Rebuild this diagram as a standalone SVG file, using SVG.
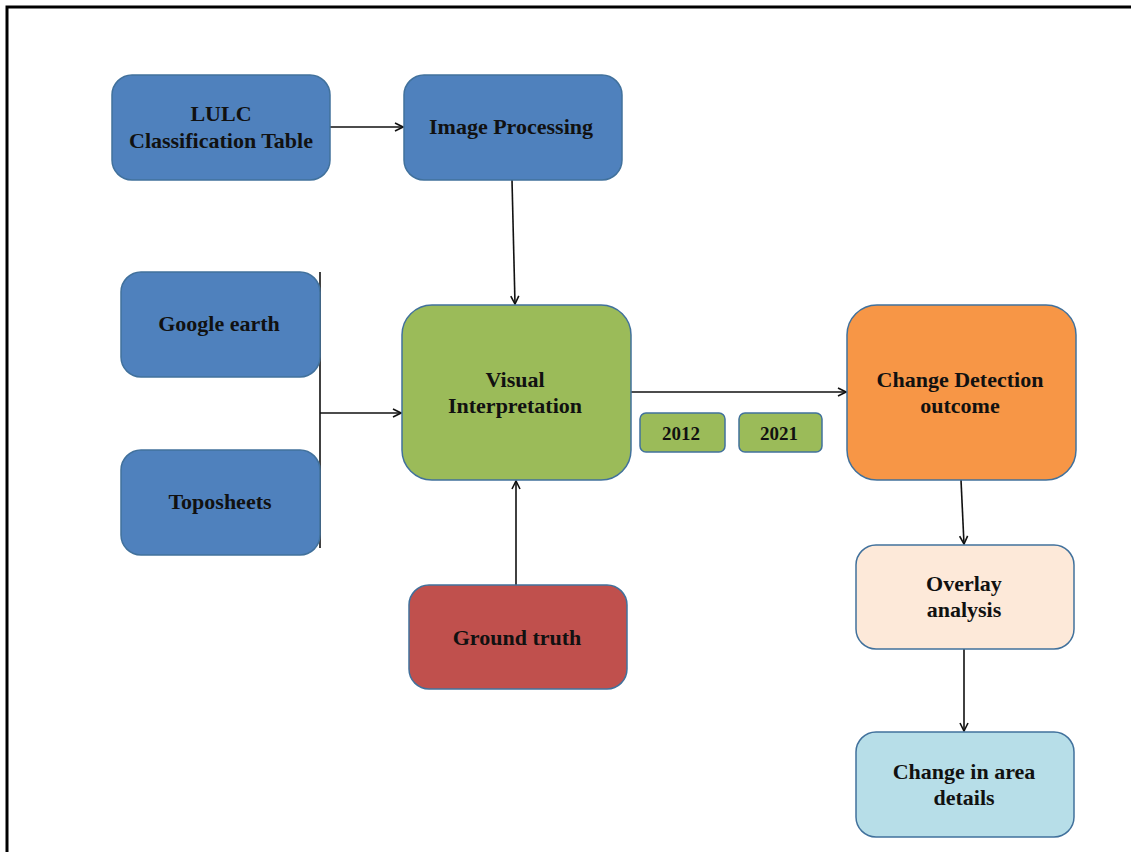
<svg xmlns="http://www.w3.org/2000/svg" width="1131" height="852" viewBox="0 0 1131 852">
<style>
.n{stroke:#41719C;stroke-width:1.5}
.t{font-family:"Liberation Serif","Times New Roman",serif;font-weight:bold;font-size:22px;fill:#111;text-anchor:middle}
.s{font-size:19px}
.c{fill:none;stroke:#111;stroke-width:1.6}
</style>
<defs>
<marker id="a" viewBox="0 0 10 10" refX="9" refY="5" markerWidth="10" markerHeight="10" markerUnits="userSpaceOnUse" orient="auto">
<path d="M1,1 L9,5 L1,9" fill="none" stroke="#111" stroke-width="1.6"/>
</marker>
</defs>
<rect width="1131" height="852" fill="#fff"/>
<path d="M7,852 V7 H1131" fill="none" stroke="#000" stroke-width="3"/>
<g id="connectors">
<path class="c" d="M330,127 H403" marker-end="url(#a)"/>
<path class="c" d="M512,180 L515,304" marker-end="url(#a)"/>
<path class="c" d="M320,272 V548"/>
<path class="c" d="M320,413 H401" marker-end="url(#a)"/>
<path class="c" d="M516,585 V481" marker-end="url(#a)"/>
<path class="c" d="M631,392 H846" marker-end="url(#a)"/>
<path class="c" d="M961,480 L964,544" marker-end="url(#a)"/>
<path class="c" d="M964,649 V731" marker-end="url(#a)"/>
</g>
<g id="lulc"><rect class="n" x="112" y="75" width="218" height="105" rx="20" fill="#4F81BD"/><text class="t" x="221" y="121">LULC</text><text class="t" x="221" y="148">Classification Table</text></g>
<g id="image-processing"><rect class="n" x="404" y="75" width="218" height="105" rx="20" fill="#4F81BD"/><text class="t" x="511" y="134">Image Processing</text></g>
<g id="google-earth"><rect class="n" x="121" y="272" width="199" height="105" rx="20" fill="#4F81BD"/><text class="t" x="219" y="331">Google earth</text></g>
<g id="toposheets"><rect class="n" x="121" y="450" width="199" height="105" rx="20" fill="#4F81BD"/><text class="t" x="220" y="509">Toposheets</text></g>
<g id="visual"><rect class="n" x="402" y="305" width="229" height="175" rx="30" fill="#9BBB59"/><text class="t" x="515" y="387">Visual</text><text class="t" x="515" y="413">Interpretation</text></g>
<g id="ground-truth"><rect class="n" x="409" y="585" width="218" height="104" rx="20" fill="#C0504D"/><text class="t" x="517" y="645">Ground truth</text></g>
<g id="change-detection"><rect class="n" x="847" y="305" width="229" height="175" rx="30" fill="#F79646"/><text class="t" x="960" y="387">Change Detection</text><text class="t" x="960" y="413">outcome</text></g>
<g id="y2012"><rect class="n" x="640" y="413" width="85" height="39" rx="6" fill="#9BBB59"/><text class="t s" x="681" y="440">2012</text></g>
<g id="y2021"><rect class="n" x="739" y="413" width="83" height="39" rx="6" fill="#9BBB59"/><text class="t s" x="779" y="440">2021</text></g>
<g id="overlay"><rect class="n" x="856" y="545" width="218" height="104" rx="20" fill="#FDE9D9"/><text class="t" x="964" y="591">Overlay</text><text class="t" x="964" y="617">analysis</text></g>
<g id="change-area"><rect class="n" x="856" y="732" width="218" height="105" rx="20" fill="#B7DEE8"/><text class="t" x="964" y="779">Change in area</text><text class="t" x="964" y="805">details</text></g>
</svg>
